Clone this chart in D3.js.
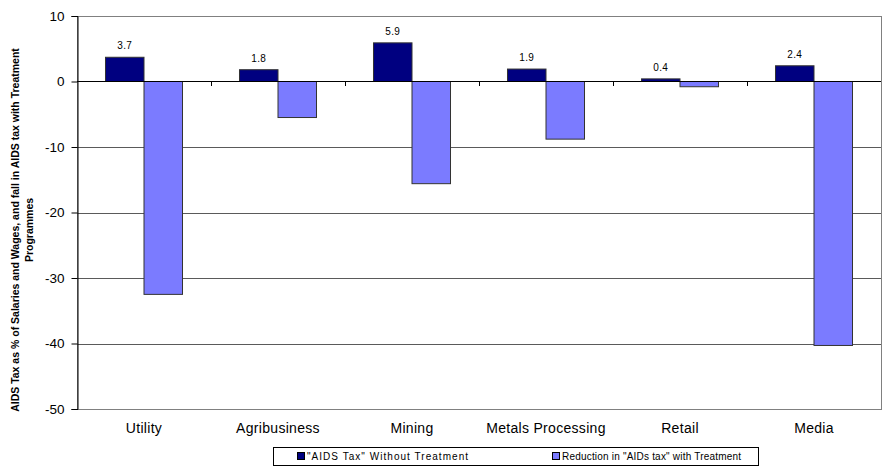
<!DOCTYPE html>
<html>
<head>
<meta charset="utf-8">
<script src="https://cdn.jsdelivr.net/npm/d3@7/dist/d3.min.js"></script>
<style>
  html, body { margin: 0; padding: 0; background: #fff; }
  svg { display: block; font-family: "Liberation Sans", Arial, sans-serif; }
</style>
</head>
<body>
<svg id="chart" width="885" height="468"></svg>
<script>
// Sectors and the two series (% of salaries and wages)
const categories = ["Utility", "Agribusiness", "Mining", "Metals Processing", "Retail", "Media"];
const seriesNames = ["\"AIDS Tax\" Without Treatment", "Reduction in \"AIDs tax\" with Treatment"];
const withoutTreatment = [3.7, 1.8, 5.9, 1.9, 0.4, 2.4];
const reductionWithTreatment = [-32.5, -5.5, -15.6, -8.8, -0.8, -40.3];
const yTicks = [10, 0, -10, -20, -30, -40, -50];
const colors = ["#000080", "#7b7bff"];

const svg = d3.select("#chart");
const plotL = 77, plotR = 881, plotT = 16, plotB = 409;

const y = d3.scaleLinear().domain([-50, 10]).range([plotB, plotT]);
const x0 = d3.scaleBand().domain(categories).range([plotL, plotR]).padding(0);
const x1 = d3.scaleBand().domain([0, 1]).range([0, x0.bandwidth()]).paddingInner(0).paddingOuter(0.74);

// Plot frame (top and right edges in grey)
svg.append("rect")
  .attr("x", plotL + 0.5).attr("y", plotT + 0.5)
  .attr("width", plotR - plotL).attr("height", plotB - plotT)
  .attr("fill", "#fff").attr("stroke", "#808080").attr("stroke-width", 1);

// Horizontal gridlines
svg.append("g").selectAll("line")
  .data(yTicks.filter(t => t !== 0 && t !== 10 && t !== -50))
  .join("line")
  .attr("x1", plotL).attr("x2", plotR)
  .attr("y1", d => Math.round(y(d)) + 0.5).attr("y2", d => Math.round(y(d)) + 0.5)
  .attr("stroke", "#5a5a5a").attr("stroke-width", 1);

// Bars
const rows = categories.map((c, i) => ({ c, v: [withoutTreatment[i], reductionWithTreatment[i]] }));
const groups = svg.append("g").selectAll("g").data(rows).join("g")
  .attr("transform", d => `translate(${x0(d.c)},0)`);
groups.selectAll("rect")
  .data(d => d.v.map((v, k) => ({ v, k })))
  .join("rect")
  .attr("x", d => x1(d.k))
  .attr("width", x1.bandwidth())
  .attr("y", d => y(Math.max(0, d.v)))
  .attr("height", d => Math.abs(y(d.v) - y(0)))
  .attr("fill", d => colors[d.k])
  .attr("stroke", "#333").attr("stroke-width", 1);

// Value labels on the first series
groups.append("text")
  .attr("x", x1(0) + x1.bandwidth() / 2)
  .attr("y", d => y(d.v[0]) - 8)
  .attr("text-anchor", "middle")
  .attr("font-size", 10)
  .attr("letter-spacing", 0.3)
  .attr("fill", "#000")
  .text(d => d.v[0].toFixed(1));

// Zero line with category boundary ticks
svg.append("line")
  .attr("x1", plotL).attr("x2", plotR)
  .attr("y1", Math.round(y(0)) + 0.5).attr("y2", Math.round(y(0)) + 0.5)
  .attr("stroke", "#000");
svg.append("g").selectAll("line")
  .data(categories.slice(1))
  .join("line")
  .attr("x1", d => Math.round(x0(d)) + 0.5).attr("x2", d => Math.round(x0(d)) + 0.5)
  .attr("y1", Math.round(y(0))).attr("y2", Math.round(y(0)) + 5)
  .attr("stroke", "#000");

// Y axis
const yAxis = d3.axisLeft(y).tickValues(yTicks).tickSize(6).tickPadding(7).tickFormat(d => String(d));
const ya = svg.append("g").attr("transform", `translate(${plotL + 0.5},0)`).call(yAxis);
ya.select(".domain").attr("stroke", "#000");
ya.selectAll(".tick line").attr("stroke", "#000");
ya.selectAll(".tick text")
  .attr("font-size", 13.5).attr("font-family", "Liberation Sans, Arial, sans-serif").attr("fill", "#000");

// Category labels
svg.append("g").selectAll("text")
  .data(categories).join("text")
  .attr("x", d => x0(d) + x0.bandwidth() / 2)
  .attr("y", 433)
  .attr("text-anchor", "middle")
  .attr("font-size", 14)
  .attr("letter-spacing", 0.3)
  .attr("fill", "#000")
  .text(d => d);

// Y axis title (two lines)
const ty = 230;
const title = svg.append("g").attr("font-size", 10.5).attr("font-weight", "bold").attr("text-anchor", "middle");
title.append("text")
  .attr("transform", `translate(19,${ty}) rotate(-90)`)
  .text("AIDS Tax as % of Salaries and Wages, and fall in AIDS tax with Treatment");
title.append("text")
  .attr("transform", `translate(33,${ty}) rotate(-90)`)
  .text("Programmes");

// Legend
const lg = svg.append("g");
lg.append("rect")
  .attr("x", 273.5).attr("y", 447.5).attr("width", 485).attr("height", 18)
  .attr("fill", "#fff").attr("stroke", "#000").attr("stroke-width", 1);
const legendX = [297, 552];
const legendTextLen = [161, 179];
seriesNames.forEach((name, k) => {
  lg.append("rect")
    .attr("x", legendX[k] + 0.5).attr("y", 452.5).attr("width", 7).attr("height", 7)
    .attr("fill", colors[k]).attr("stroke", "#000");
  lg.append("text")
    .attr("x", legendX[k] + 10).attr("y", 460)
    .attr("font-size", 10)
    .attr("textLength", legendTextLen[k]).attr("lengthAdjust", "spacing")
    .attr("fill", "#000")
    .text(name);
});
</script>
</body>
</html>
